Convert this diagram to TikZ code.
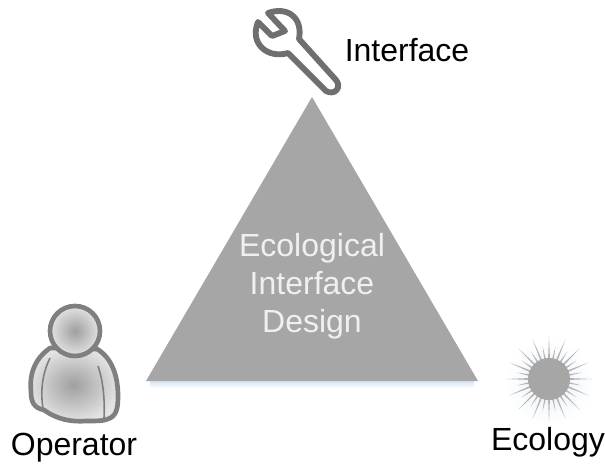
\documentclass[tikz,border=0pt]{standalone}
\usepackage{fontspec}
\setmainfont{Liberation Sans}
\definecolor{triangleGray}{HTML}{A6A6A6}
\definecolor{rayGray}{HTML}{B4B4B4}
\definecolor{wrenchGray}{HTML}{6F6F6F}
\definecolor{personGray}{HTML}{7F7F7F}
\definecolor{glowBlue}{HTML}{D5E3F3}
\begin{document}
\begin{tikzpicture}[x=0.75pt,y=-0.75pt]
	\tikzstyle{caption}=[font=\fontsize{24}{28}\selectfont,text=black,inner sep=0pt]
	\tikzstyle{personline}=[draw=personGray,line width=3.5pt,line join=round]
	\tikzstyle{personfill}=[inner color=gray!75,outer color=gray!22]

	\useasboundingbox (0,0) rectangle (605,466);

	\coordinate (apex) at (312,97);
	\coordinate (baseleft) at (146,381);
	\coordinate (baseright) at (478,381);

	\shade [top color=glowBlue,bottom color=white] (150,381) rectangle (474,388);
	\fill [triangleGray] (apex) -- (baseright) -- (baseleft) -- cycle;
	\node (eid) at (312,286) [align=center,inner sep=0pt,text=white!88!gray,font=\fontsize{24}{28.5}\selectfont] {Ecological\\Interface\\Design};

	\draw [wrenchGray,line width=4.4pt,line join=round,fill=white] (268,13) .. controls (288,6) and (303,18) .. (299,39) -- (336,80) .. controls (342,87) and (335,96) .. (326,91) -- (288,53) .. controls (268,59) and (249,44) .. (258,22) -- (272,36) -- (285,31) -- cycle;
	\node (interface) at (407,50) [caption] {Interface};

	\draw [personline,personfill] (50,348) .. controls (36,358) and (29,372) .. (31,392) .. controls (31,402) and (34,408) .. (44,410) .. controls (58,420) and (72,422) .. (86,421) .. controls (96,421) and (104,421) .. (108,419) .. controls (116,416) and (118,410) .. (118,396) .. controls (118,376) and (112,358) .. (97,349) -- cycle;
	\draw [personGray,line width=1.2pt] (50,358) .. controls (43,372) and (40,390) .. (43,408);
	\draw [personGray,line width=1.2pt] (98,366) .. controls (103,380) and (105,400) .. (104,418);
	\draw [personline,personfill] (75,331) circle (25);
	\node (operator) at (74,448) [caption] {Operator};

	\shade [inner color=glowBlue!50,outer color=white,draw=none] (549,383) circle (44);
	\begin{scope}[shift={(549,379)}]
		\foreach \angle in {0,22.5,...,337.5}
			\fill [rayGray] (\angle+4:16) -- (\angle:43) -- (\angle-4:16) -- cycle;
		\foreach \angle in {11.25,33.75,...,348.75}
			\fill [rayGray] (\angle+4:16) -- (\angle:33) -- (\angle-4:16) -- cycle;
		\fill [triangleGray] (0,0) circle (21);
	\end{scope}
	\node (ecology) at (548,442) [caption] {Ecology};
\end{tikzpicture}
\end{document}
